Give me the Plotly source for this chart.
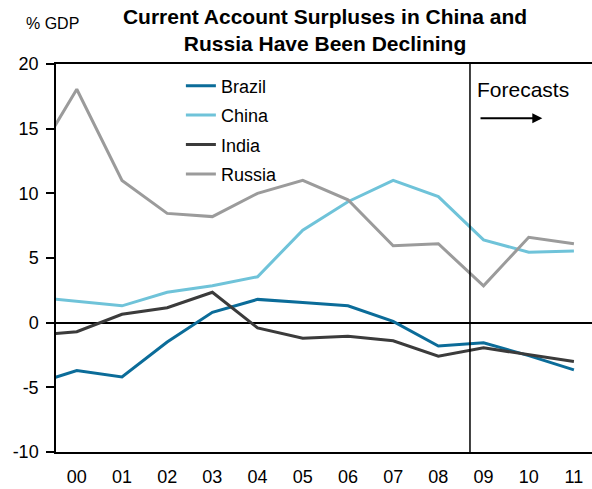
import plotly.graph_objects as go

# years (1999 point is only partly shown, the axis starts mid-way)
years = [1999, 2000, 2001, 2002, 2003, 2004, 2005, 2006, 2007, 2008, 2009, 2010, 2011]
tick_years = [2000, 2001, 2002, 2003, 2004, 2005, 2006, 2007, 2008, 2009, 2010, 2011]
tick_labels = ["00", "01", "02", "03", "04", "05", "06", "07", "08", "09", "10", "11"]
y_ticks = [-10, -5, 0, 5, 10, 15, 20]
y_labels = ["-10", "-5", "0", "5", "10", "15", "20"]

# current account balance, % of GDP
brazil = [-4.8, -3.7, -4.2, -1.5, 0.8, 1.8, 1.55, 1.3, 0.1, -1.8, -1.55, -2.55, -3.65]
china = [2.0, 1.65, 1.3, 2.35, 2.85, 3.55, 7.15, 9.35, 11.0, 9.75, 6.4, 5.45, 5.55]
india = [-1.0, -0.7, 0.65, 1.15, 2.35, -0.4, -1.2, -1.05, -1.4, -2.6, -1.95, -2.45, -3.0]
russia = [12.2, 18.05, 11.0, 8.45, 8.2, 10.0, 11.0, 9.5, 5.95, 6.1, 2.85, 6.6, 6.1]

series = [
    ("Brazil", brazil, "#0b6c99"),
    ("China", china, "#6fc3d9"),
    ("India", india, "#3b3b3b"),
    ("Russia", russia, "#9b9b9b"),
]

fig = go.Figure()
for name, vals, col in series:
    fig.add_trace(go.Scatter(x=years, y=vals, name=name, mode="lines",
                             line=dict(color=col, width=3), legendgroup=name))

# forecast divider
fig.add_shape(type="line", xref="x", yref="y", x0=2008.7, x1=2008.7, y0=-10.5, y1=20,
              line=dict(color="black", width=1.5))
fig.add_annotation(x=2008.8, y=18.0, xref="x", yref="y", text="Forecasts", showarrow=False,
                   xanchor="left", font=dict(size=21, color="black"))
fig.add_annotation(x=2010.3, y=15.8, ax=2008.9, ay=15.8, xref="x", yref="y",
                   axref="x", ayref="y", text="", showarrow=True, arrowhead=2,
                   arrowsize=1, arrowwidth=2, arrowcolor="black")

fig.add_annotation(x=-0.06, y=1.104, xref="paper", yref="paper", text="% GDP",
                   showarrow=False, xanchor="left", yanchor="middle", font=dict(size=16))

fig.update_layout(
    width=592, height=489,
    margin=dict(l=56, r=0, t=64, b=37),
    paper_bgcolor="white", plot_bgcolor="white",
    font=dict(family="Liberation Sans, Arial", size=18, color="black"),
    title=dict(text="<b>Current Account Surpluses in China and<br>Russia Have Been Declining</b>",
               x=0.549, xanchor="center", y=0.951, yanchor="top", font=dict(size=21)),
    legend=dict(x=0.233, y=0.991, xanchor="left", yanchor="top", tracegroupgap=3,
                bgcolor="rgba(0,0,0,0)", font=dict(size=18)),
    showlegend=True,
)

fig.update_xaxes(range=[1999.54, 2011.4], tickvals=tick_years, ticktext=tick_labels,
                 showgrid=False, zeroline=False, showline=True, mirror=True,
                 linecolor="black", linewidth=1.5, ticks="", tickfont=dict(size=18),
                 ticklabelstandoff=8)
fig.update_yaxes(range=[-10, 20], tickvals=y_ticks, ticktext=y_labels, showgrid=False,
                 zeroline=True, zerolinecolor="black", zerolinewidth=1.5, showline=True,
                 linecolor="black", linewidth=1.5, ticks="outside", ticklen=8,
                 tickcolor="black", tickwidth=1.5, tickfont=dict(size=18),
                 ticklabelstandoff=4)

# drop the default 8px body margin so the figure fills the window
fig.write_html("out.html", config={"displayModeBar": False},
               post_script="document.body.style.margin='0';")
